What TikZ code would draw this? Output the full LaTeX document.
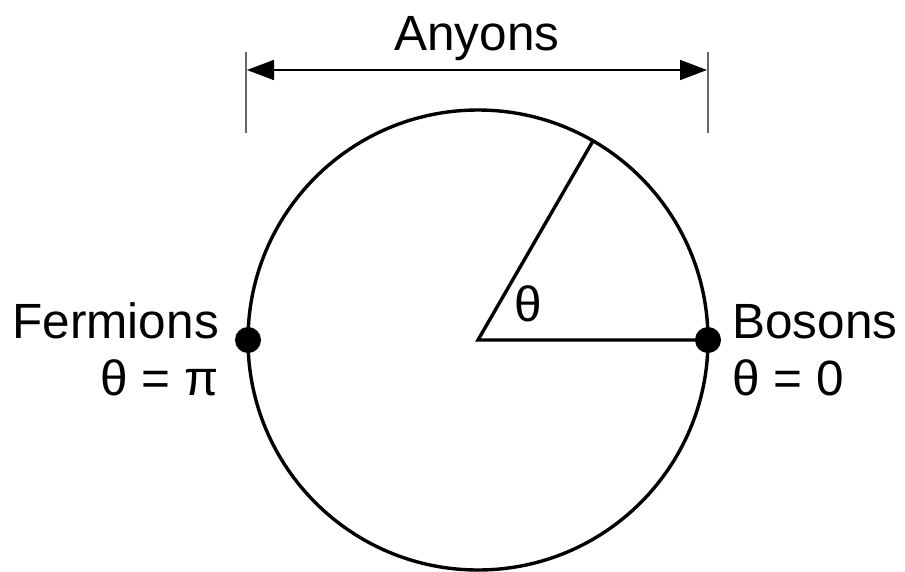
\documentclass[tikz,border=0pt]{standalone}
\usepackage{fontspec}
\setmainfont{Liberation Sans}
\usetikzlibrary{arrows.meta}
\begin{document}
\begin{tikzpicture}[x=1pt,y=-1pt,
  lbl/.style={inner sep=0pt,font=\fontsize{49.5}{58}\selectfont},
  dot/.style={circle,fill=black,inner sep=0pt,minimum size=26pt},
  tick/.style={draw=black!60,line width=2pt},
  dim/.style={line width=1.8pt,{Triangle[length=27pt,width=20pt]}-{Triangle[length=27pt,width=20pt]}}]
\useasboundingbox (0,0) rectangle (905,571);
\coordinate (O) at (478,340);
\draw[line width=3.4pt] (O) circle[radius=230];
\node[dot] (F) at (248,340) {};
\node[dot] (B) at (708,340) {};
\draw[line width=3.4pt] (B.center) -- (O) -- ++(-60:230) coordinate (R);
\node[lbl] (th) at (528,304) {θ};
% dimension
\coordinate (tl1) at (246,52); \coordinate (tl2) at (246,133);
\coordinate (tr1) at (708,52); \coordinate (tr2) at (708,133);
\draw[tick] (tl1) -- (tl2);
\draw[tick] (tr1) -- (tr2);
\coordinate (al) at (247,70); \coordinate (ar) at (707,70);
\draw[dim] (al) -- (ar);
\node[lbl,anchor=base] (any) at (477,50) {Anyons};
\node[lbl,anchor=base east] (fer) at (219,338) {Fermions};
\node[lbl,anchor=base east] (fer2) at (219,395) {θ = π};
\node[lbl,anchor=base west] (bos) at (732,338) {Bosons};
\node[lbl,anchor=base west] (bos2) at (732,395) {θ = 0};
\end{tikzpicture}
\end{document}
